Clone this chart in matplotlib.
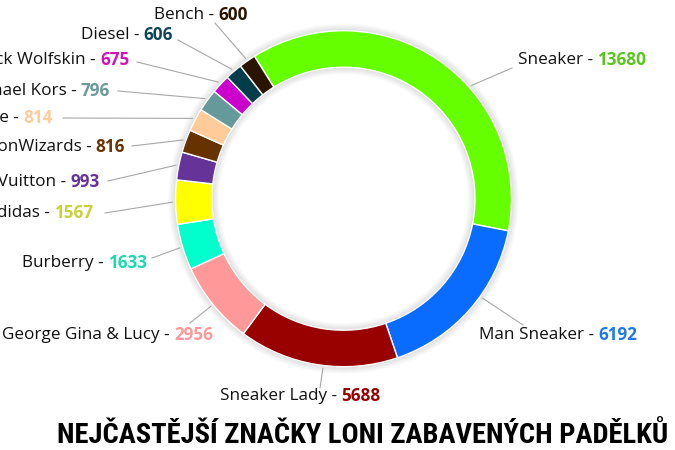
import matplotlib
matplotlib.use("Agg")
import matplotlib.pyplot as plt
from matplotlib.patches import Wedge
from matplotlib import font_manager
import numpy as np

# ---------------- data ----------------
brands = ["Sneaker", "Man Sneaker", "Sneaker Lady", "George Gina & Lucy", "Burberry",
          "Adidas", "Louis Vuitton", "FashionWizards", "Nike", "Michael Kors",
          "Jack Wolfskin", "Diesel", "Bench"]
counts = [13680, 6192, 5688, 2956, 1633, 1567, 993, 816, 814, 796, 675, 606, 600]
title_text = "NEJČASTĚJŠÍ ZNAČKY LONI ZABAVENÝCH PADĚLKŮ"

# ---------------- styles ----------------
slice_colors = ["#66FF00", "#0A6CFF", "#990000", "#FF9999", "#00FFCC",
                "#FFFF00", "#663399", "#663300", "#FFCC99", "#669999",
                "#CC00CC", "#003D4A", "#2B1500"]
value_colors = ["#5BC51E", "#1E78F0", "#990000", "#FF9999", "#1ED9B0",
                "#C8D23C", "#663399", "#663300", "#FFCC99", "#6A9A98",
                "#D214B4", "#0E4654", "#2B1500"]

W, H = 675, 450
CX, CY = 343.5, 198.7          # donut centre in pixels (y down)
R_OUT, RING = 168, 36.5

# label layout (pixels, y down): anchor x, y, alignment
label_pos = [(518, 60, "left"), (479, 335, "left"), (220, 396, "left"),
             (213, 335, "right"), (147, 263, "right"), (93, 213, "right"),
             (100, 182, "right"), (125, 147, "right"), (53, 118, "right"),
             (110, 91, "right"), (130, 60, "right"), (173, 35, "right"),
             (248, 15, "right")]
# end point of the leader lines (pixels, y down)
line_end = [(512, 68), (523, 325), (320, 388), (190, 323), (152, 258),
            (105, 213), (108, 181), (132, 146), (63, 118), (118, 91),
            (137, 62), (178, 40), (215, 23)]
tick_shift = [-14, 5.6, 2, 0, 0, 0, 0, 0, 0, 0, 0, 0, 0]


def P(x, y):
    return x, H - y


avail = {f.name for f in font_manager.fontManager.ttflist}
label_font = "Open Sans" if "Open Sans" in avail else "DejaVu Sans"
title_font = "DejaVu Sans"
for cand in ["Roboto Condensed", "Liberation Sans Narrow", "DejaVu Sans Condensed"]:
    if cand in avail:
        title_font = cand
        break

fig = plt.figure(figsize=(W / 100, H / 100), dpi=100)
ax = fig.add_axes([0, 0, 1, 1])

center = P(CX, CY)

# soft shadow around the ring
for k in range(1, 9):
    ax.add_patch(Wedge(center, R_OUT + k * 0.9, 0, 360, width=RING + 2 * k * 0.9,
                       facecolor="#000000", alpha=0.016, linewidth=0, zorder=0))

wedges, _ = ax.pie(counts, colors=slice_colors, startangle=122, counterclock=False,
                   radius=R_OUT, center=center,
                   wedgeprops=dict(width=RING, edgecolor="white", linewidth=1.0))
for w in wedges:
    w.set_zorder(2)

ax.set_xlim(0, W)
ax.set_ylim(0, H)
ax.set_aspect("equal")
ax.axis("off")

renderer = fig.canvas.get_renderer()
fs = 12.3

for i, (w, name, val) in enumerate(zip(wedges, brands, counts)):
    mid = np.deg2rad((w.theta1 + w.theta2) / 2 + tick_shift[i])
    r0 = R_OUT + 3
    sx = center[0] + r0 * np.cos(mid)
    sy = center[1] + r0 * np.sin(mid)
    ex, ey = P(*line_end[i])
    ax.plot([sx, ex], [sy, ey], color="#A8A8A8", linewidth=0.8, zorder=1)

    lx, ly, ha = label_pos[i]
    x, y = P(lx, ly)
    if ha == "left":
        t1 = ax.text(x, y, f"{name} - ", fontsize=fs, family=label_font,
                     color="#111111", ha="left", va="center")
        wd = t1.get_window_extent(renderer).width
        ax.text(x + wd, y, f"{val}", fontsize=fs, family=label_font,
                fontweight="bold", color=value_colors[i], ha="left", va="center")
    else:
        t2 = ax.text(x, y, f"{val}", fontsize=fs, family=label_font,
                     fontweight="bold", color=value_colors[i], ha="right", va="center")
        wd = t2.get_window_extent(renderer).width
        ax.text(x - wd, y, f"{name} - ", fontsize=fs, family=label_font,
                color="#111111", ha="right", va="center")

tx, ty = P(57, 443)
ax.text(tx, ty, title_text, fontsize=20.5, family=title_font, fontweight="black",
        color="#000000", ha="left", va="baseline")

fig.savefig("out.png", dpi=100)
